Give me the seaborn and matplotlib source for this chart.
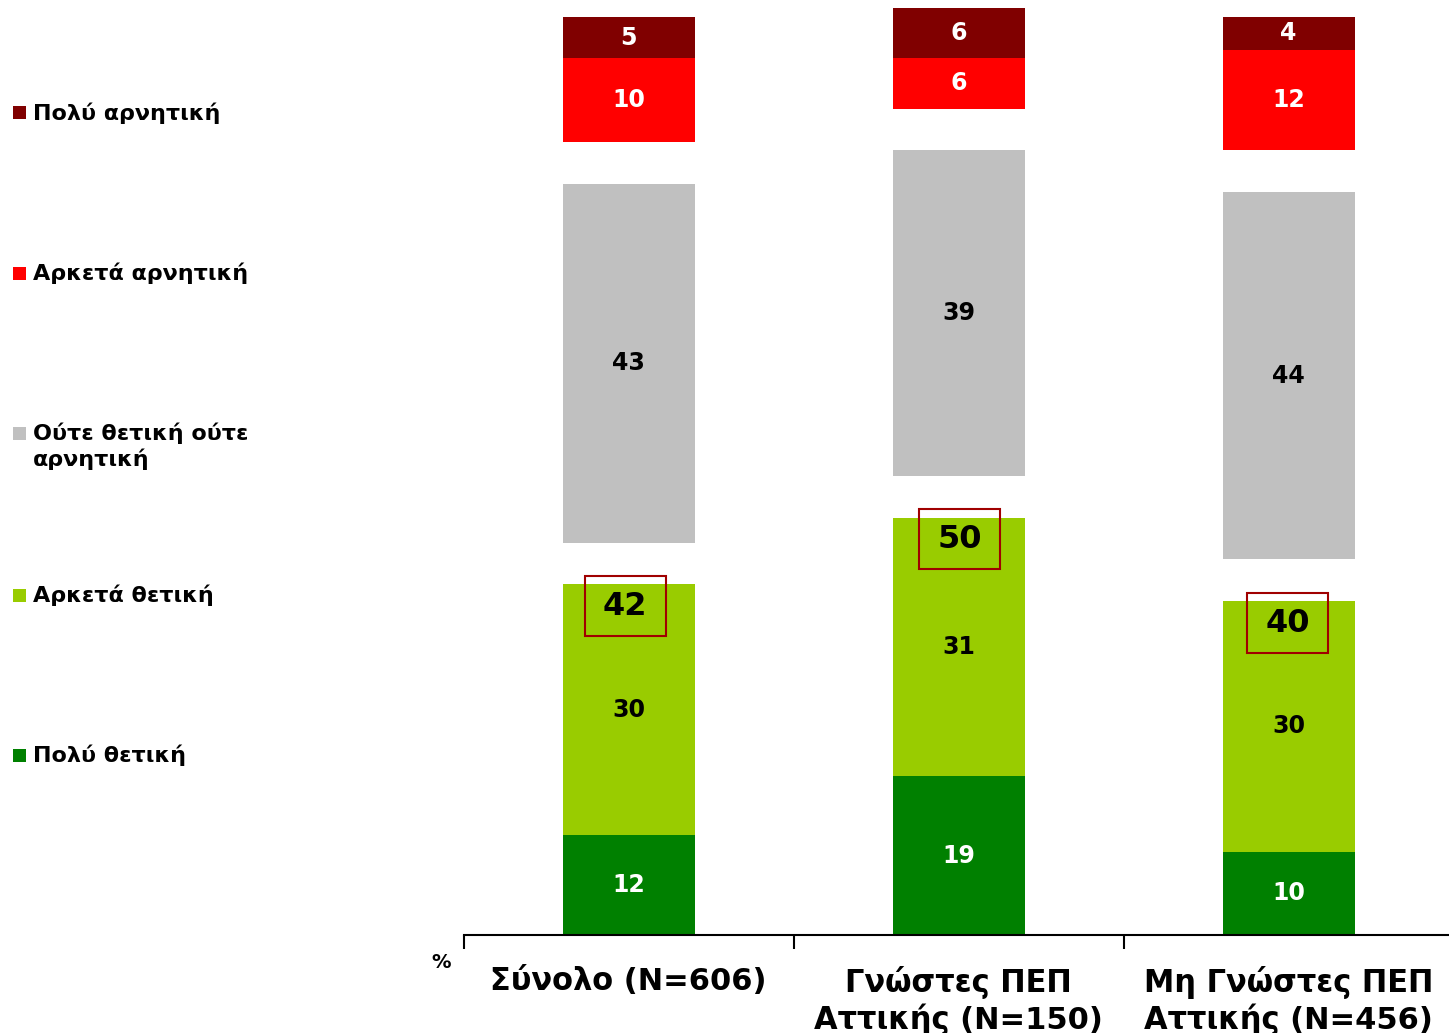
import matplotlib
matplotlib.use("Agg")
import matplotlib.pyplot as plt
import seaborn as sns
import numpy as np
from matplotlib.patches import Rectangle

# ---------------- data ----------------
categories = ["Σύνολο (N=606)", "Γνώστες ΠΕΠ\nΑττικής (N=150)", "Μη Γνώστες ΠΕΠ\nΑττικής (N=456)"]
very_positive = [12, 19, 10]
fairly_positive = [30, 31, 30]
neutral = [43, 39, 44]
fairly_negative = [10, 6, 12]
very_negative = [5, 6, 4]
positive_total = [42, 50, 40]
legend_labels = ["Πολύ αρνητική", "Αρκετά αρνητική", "Ούτε θετική ούτε\nαρνητική",
                 "Αρκετά θετική", "Πολύ θετική"]

# ---------------- style ----------------
sns.set_theme(style="white")
plt.rcParams['font.family'] = ['DejaVu Sans']
plt.rcParams['font.weight'] = 'bold'
plt.rcParams['text.color'] = 'black'
plt.rcParams['xtick.color'] = 'black'
plt.rcParams['xtick.labelcolor'] = 'black'

colors = {"vn": "#800000", "fn": "#FF0000", "neu": "#C0C0C0", "fp": "#99CC00", "vp": "#008000"}
GAP = 5

W, H = 1449, 1033
fig = plt.figure(figsize=(W / 100, H / 100), dpi=100)
ax_left, ax_right = 463.5, 1453.5
ax_bottom_px = 935
ax = fig.add_axes([ax_left / W, (H - ax_bottom_px) / H, (ax_right - ax_left) / W, ax_bottom_px / H])

vp = np.array(very_positive, float)
fp = np.array(fairly_positive, float)
neu = np.array(neutral, float)
fn = np.array(fairly_negative, float)
vn = np.array(very_negative, float)

b_vp = np.zeros(3)
b_fp = b_vp + vp
b_neu = b_fp + fp + GAP
b_fn = b_neu + neu + GAP
b_vn = b_fn + fn

segments = [
    (vp, b_vp, colors["vp"], "white"),
    (fp, b_fp, colors["fp"], "black"),
    (neu, b_neu, colors["neu"], "black"),
    (fn, b_fn, colors["fn"], "white"),
    (vn, b_vn, colors["vn"], "white"),
]

for vals, bots, col, tcol in segments:
    sns.barplot(x=categories, y=vals, bottom=bots, color=col, width=0.4,
                saturation=1, linewidth=0, ax=ax)
    for i, (v, b) in enumerate(zip(vals, bots)):
        ax.text(i, b + v / 2, f"{int(v)}", ha="center", va="center",
                color=tcol, fontsize=17, fontweight="bold")

# totals of positive with framed boxes
box_dx = [-0.01, 0.004, -0.003]
for i, t in enumerate(positive_total):
    ax.add_patch(Rectangle((i + box_dx[i] - 0.1225, t - 6.2), 0.245, 7.2, fill=False,
                           edgecolor="#A00000", linewidth=1.5, zorder=5))
    ax.text(i + box_dx[i], t - 2.65, f"{t}", ha="center", va="center", color="black",
            fontsize=23, fontweight="bold", zorder=6)

ax.set_xlim(-0.5, 2.5)
ax.set_ylim(0, 112)
for s in ["left", "right", "top"]:
    ax.spines[s].set_visible(False)
ax.spines["bottom"].set_linewidth(1.5)
ax.spines["bottom"].set_color("black")
ax.set_yticks([])
ax.set_ylabel("")
ax.set_xticks([-0.5, 0.5, 1.5, 2.5])
ax.set_xticklabels([])
ax.tick_params(axis="x", which="major", direction="out", length=10, width=1.5,
               color="black", bottom=True)
ax.set_xticks([0, 1, 2], minor=True)
ax.set_xticklabels(categories, minor=True, fontsize=22, fontweight="bold",
                   linespacing=1.2, color="black")
ax.tick_params(axis="x", which="minor", length=0, pad=22)

# "%" label
fig.text(441 / W, 1 - 963 / H, "%", ha="center", va="center", fontsize=14,
         fontweight="bold", color="black")

# legend (manual)
leg_cols = [colors["vn"], colors["fn"], colors["neu"], colors["fp"], colors["vp"]]
leg_y = [113, 273, 446, 595, 755]
leg_marker_y = [113, 273, 433, 595, 755]
for lab, col, y, my in zip(legend_labels, leg_cols, leg_y, leg_marker_y):
    fig.add_artist(Rectangle((13 / W, 1 - (my + 6.5) / H), 13 / W, 13 / H,
                             transform=fig.transFigure, facecolor=col,
                             edgecolor="none"))
    fig.text(33 / W, 1 - y / H, lab, ha="left", va="center", fontsize=16,
             fontweight="bold", linespacing=1.25, color="black")

fig.savefig("out.png", dpi=100)
